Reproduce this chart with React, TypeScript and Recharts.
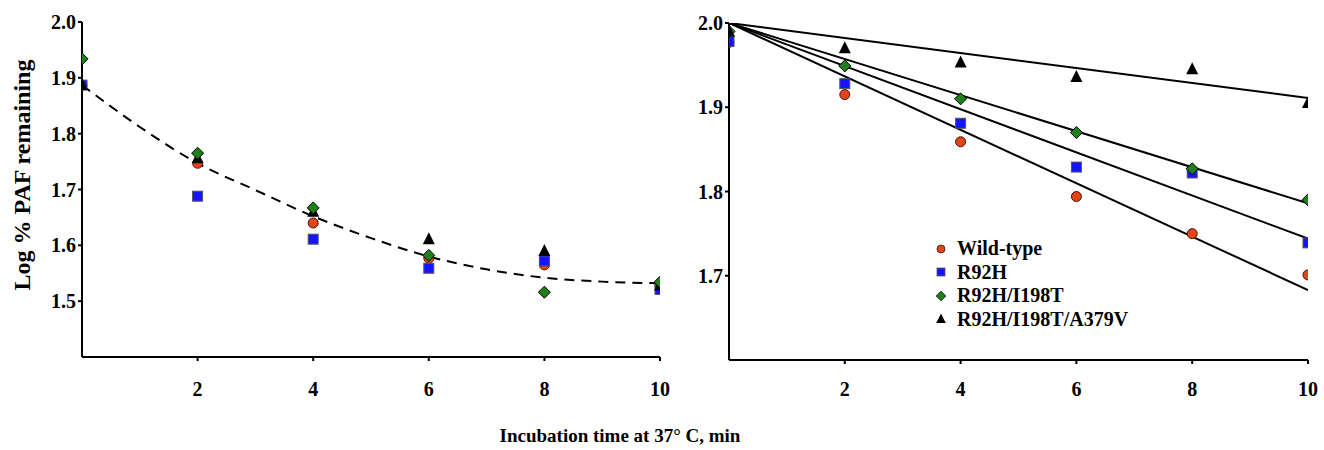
import React from "react"
import {
  ComposedChart,
  Scatter,
  Line,
  XAxis,
  YAxis,
} from "recharts"

const TIMES = [0, 2, 4, 6, 8, 10]
const CURVE_TIMES = [0, 1, 2, 3, 4, 5, 6, 7, 8, 9, 10]

// left panel: raw points + fitted dashed curve
const WT_LEFT = [1.887, 1.747, 1.64, 1.577, 1.565, 1.528]
const R92H_LEFT = [1.887, 1.688, 1.611, 1.559, 1.572, 1.521]
const I198T_LEFT = [1.934, 1.765, 1.667, 1.582, 1.516, 1.534]
const A379V_LEFT = [1.887, 1.756, 1.66, 1.611, 1.59, 1.528]
const CURVE_LEFT = [1.887, 1.812, 1.747, 1.699, 1.652, 1.613, 1.58, 1.557, 1.542, 1.535, 1.532]

// right panel: normalised points + linear fits through 2.0
const WT_RIGHT = [1.977, 1.915, 1.859, 1.794, 1.75, 1.701]
const R92H_RIGHT = [1.978, 1.928, 1.881, 1.829, 1.822, 1.739]
const I198T_RIGHT = [1.99, 1.949, 1.91, 1.87, 1.827, 1.79]
const A379V_RIGHT = [1.99, 1.97, 1.953, 1.936, 1.945, 1.905]
const FIT_X = [0, 10]
const FIT_WT = [2.0, 1.683]
const FIT_R92H = [2.0, 1.744]
const FIT_I198T = [2.0, 1.786]
const FIT_A379V = [2.0, 1.911]

const LEFT_Y_TICKS = [1.5, 1.6, 1.7, 1.8, 1.9, 2.0]
const RIGHT_Y_TICKS = [1.7, 1.8, 1.9, 2.0]
const X_TICKS = [2, 4, 6, 8, 10]

const SERIES_NAMES = ["Wild-type", "R92H", "R92H/I198T", "R92H/I198T/A379V"]

const COLORS = {
  wt: "#e2451b",
  r92h: "#1414ff",
  i198t: "#1f7f1a",
  a379v: "#000000",
}

const FONT = "'Liberation Serif', 'Times New Roman', serif"

const pts = (xs: number[], ys: number[]) => xs.map((x, i) => ({ x, y: ys[i] }))

const CircleDot = (p: any) => (
  <circle cx={p.cx} cy={p.cy} r={5} fill={COLORS.wt} stroke="#4a1400" strokeWidth={1} />
)
const SquareDot = (p: any) => (
  <rect x={p.cx - 5} y={p.cy - 5} width={10} height={10} fill={COLORS.r92h} stroke="#555" strokeWidth={1} />
)
const DiamondDot = (p: any) => (
  <polygon
    points={`${p.cx},${p.cy - 6} ${p.cx + 6},${p.cy} ${p.cx},${p.cy + 6} ${p.cx - 6},${p.cy}`}
    fill={COLORS.i198t}
    stroke="#000"
    strokeWidth={1}
  />
)
const TriangleDot = (p: any) => (
  <polygon
    points={`${p.cx},${p.cy - 7} ${p.cx + 6},${p.cy + 5} ${p.cx - 6},${p.cy + 5}`}
    fill={COLORS.a379v}
  />
)

const tickStyle = { fontSize: 20, fontWeight: "bold", fill: "#000", fontFamily: FONT }

function LegendBox() {
  const shapes = [CircleDot, SquareDot, DiamondDot, TriangleDot]
  return (
    <div style={{ fontFamily: FONT, fontWeight: "bold", fontSize: 20, lineHeight: "23.5px" }}>
      {SERIES_NAMES.map((name, i) => {
        const Shape = shapes[i]
        return (
          <div key={name} style={{ display: "flex", alignItems: "center" }}>
            <svg width={18} height={14} style={{ marginRight: 7 }}>
              <g transform="translate(9,7) scale(0.8) translate(-9,-7)">
                <Shape cx={9} cy={7} />
              </g>
            </svg>
            <span>{name}</span>
          </div>
        )
      })}
    </div>
  )
}

function LeftPanel() {
  return (
    <ComposedChart width={680} height={450} margin={{ top: 22, right: 20, left: 0, bottom: 0 }}>
      <XAxis
        type="number"
        dataKey="x"
        domain={[0, 10]}
        ticks={X_TICKS}
        height={93}
        tick={tickStyle}
        tickSize={4}
        tickMargin={21}
        stroke="#000"
        strokeWidth={2}
        allowDataOverflow
      />
      <YAxis
        type="number"
        dataKey="y"
        domain={[1.4, 2.0]}
        ticks={LEFT_Y_TICKS}
        tickFormatter={(v: number) => v.toFixed(1)}
        width={82}
        tick={tickStyle}
        tickSize={4}
        tickMargin={2}
        stroke="#000"
        strokeWidth={2}
        allowDataOverflow
        label={{
          content: () => (
            <text
              x={30}
              y={175}
              transform="rotate(-90 30 175)"
              textAnchor="middle"
              fontFamily={FONT}
              fontWeight="bold"
              fontSize={24}
              fill="#000"
            >
              Log % PAF remaining
            </text>
          ),
        }}
      />
      <Scatter data={pts(TIMES, WT_LEFT)} shape={CircleDot} isAnimationActive={false} />
      <Scatter data={pts(TIMES, R92H_LEFT)} shape={SquareDot} isAnimationActive={false} />
      <Scatter data={pts(TIMES, A379V_LEFT)} shape={TriangleDot} isAnimationActive={false} />
      <Scatter data={pts(TIMES, I198T_LEFT)} shape={DiamondDot} isAnimationActive={false} />
      <Line
        data={pts(CURVE_TIMES, CURVE_LEFT)}
        dataKey="y"
        type="monotone"
        stroke="#000"
        strokeWidth={2}
        strokeDasharray="10 7"
        dot={false}
        activeDot={false}
        isAnimationActive={false}
      />
    </ComposedChart>
  )
}

function RightPanel() {
  return (
    <ComposedChart width={664} height={450} margin={{ top: 23, right: 16, left: 0, bottom: 0 }}>
      <XAxis
        type="number"
        dataKey="x"
        domain={[0, 10]}
        ticks={X_TICKS}
        height={90}
        tick={tickStyle}
        tickSize={4}
        tickMargin={18}
        stroke="#000"
        strokeWidth={2}
        allowDataOverflow
      />
      <YAxis
        type="number"
        dataKey="y"
        domain={[1.6, 2.0]}
        ticks={RIGHT_Y_TICKS}
        tickFormatter={(v: number) => v.toFixed(1)}
        width={69}
        tick={tickStyle}
        tickSize={4}
        tickMargin={2}
        stroke="#000"
        strokeWidth={2}
        allowDataOverflow
      />
      <Scatter data={pts(TIMES, WT_RIGHT)} shape={CircleDot} isAnimationActive={false} />
      <Scatter data={pts(TIMES, R92H_RIGHT)} shape={SquareDot} isAnimationActive={false} />
      <Scatter data={pts(TIMES, I198T_RIGHT)} shape={DiamondDot} isAnimationActive={false} />
      <Scatter data={pts(TIMES, A379V_RIGHT)} shape={TriangleDot} isAnimationActive={false} />
      {[FIT_WT, FIT_R92H, FIT_I198T, FIT_A379V].map((fit, i) => (
        <Line
          key={i}
          data={pts(FIT_X, fit)}
          dataKey="y"
          type="linear"
          stroke="#000"
          strokeWidth={2}
          dot={false}
          activeDot={false}
          isAnimationActive={false}
        />
      ))}
    </ComposedChart>
  )
}

export default function App() {
  return (
    <div style={{ position: "relative", width: 1324, height: 450, background: "#fff", overflow: "hidden" }}>
      <style>{"body{margin:0} svg{overflow:visible}"}</style>
      <div style={{ position: "absolute", left: 0, top: 0 }}>
        <LeftPanel />
      </div>
      <div style={{ position: "absolute", left: 660, top: 0 }}>
        <RightPanel />
      </div>
      <div style={{ position: "absolute", left: 932, top: 237 }}>
        <LegendBox />
      </div>
      <div
        style={{
          position: "absolute",
          left: 0,
          width: 1240,
          top: 425,
          textAlign: "center",
          fontFamily: FONT,
          fontWeight: "bold",
          fontSize: 19,
        }}
      >
        Incubation time at 37° C, min
      </div>
    </div>
  )
}
